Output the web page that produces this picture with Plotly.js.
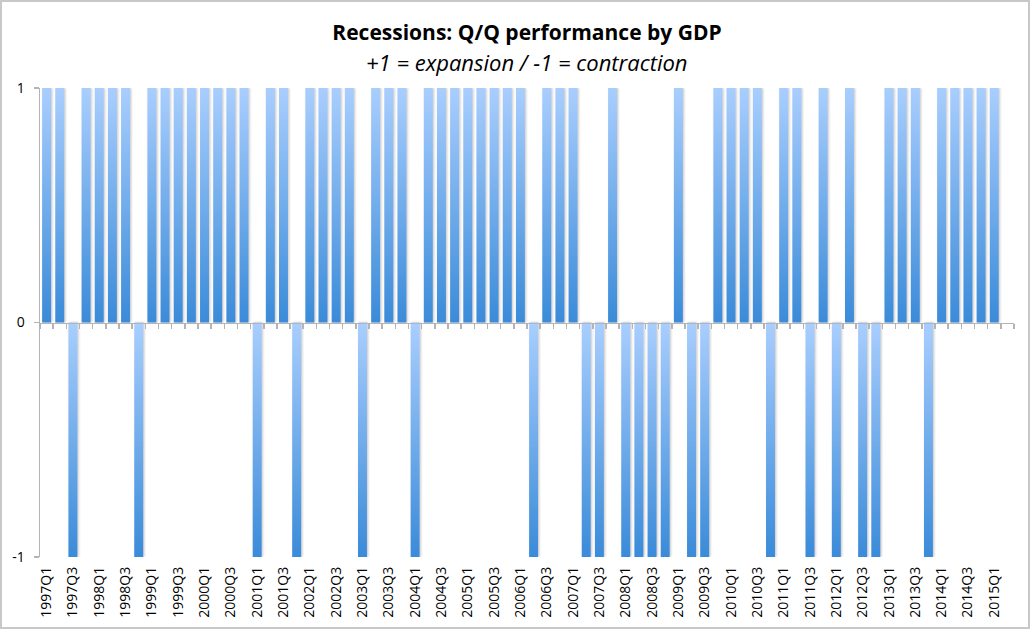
<!DOCTYPE html>
<html>
<head>
<meta charset="utf-8">
<script src="https://cdn.plot.ly/plotly-3.0.1.min.js"></script>
<style>
  html, body { margin: 0; padding: 0; background: #fff; }
  #chart { width: 1033px; height: 630px; }
  #frame { position: absolute; left: 0; top: 0; width: 1026px; height: 625px;
           border: 2px solid #c8c8c8; pointer-events: none; }
</style>
</head>
<body>
<div id="chart"></div>
<div id="frame"></div>
<script>
// Quarters (categories)
const quarters = [
  "1997Q1","1997Q2","1997Q3","1997Q4",
  "1998Q1","1998Q2","1998Q3","1998Q4",
  "1999Q1","1999Q2","1999Q3","1999Q4",
  "2000Q1","2000Q2","2000Q3","2000Q4",
  "2001Q1","2001Q2","2001Q3","2001Q4",
  "2002Q1","2002Q2","2002Q3","2002Q4",
  "2003Q1","2003Q2","2003Q3","2003Q4",
  "2004Q1","2004Q2","2004Q3","2004Q4",
  "2005Q1","2005Q2","2005Q3","2005Q4",
  "2006Q1","2006Q2","2006Q3","2006Q4",
  "2007Q1","2007Q2","2007Q3","2007Q4",
  "2008Q1","2008Q2","2008Q3","2008Q4",
  "2009Q1","2009Q2","2009Q3","2009Q4",
  "2010Q1","2010Q2","2010Q3","2010Q4",
  "2011Q1","2011Q2","2011Q3","2011Q4",
  "2012Q1","2012Q2","2012Q3","2012Q4",
  "2013Q1","2013Q2","2013Q3","2013Q4",
  "2014Q1","2014Q2","2014Q3","2014Q4",
  "2015Q1","2015Q2"
];

// +1 = expansion / -1 = contraction
const performance = [
   1,  1, -1,  1,   // 1997
   1,  1,  1, -1,   // 1998
   1,  1,  1,  1,   // 1999
   1,  1,  1,  1,   // 2000
  -1,  1,  1, -1,   // 2001
   1,  1,  1,  1,   // 2002
  -1,  1,  1,  1,   // 2003
  -1,  1,  1,  1,   // 2004
   1,  1,  1,  1,   // 2005
   1, -1,  1,  1,   // 2006
   1, -1, -1,  1,   // 2007
  -1, -1, -1, -1,   // 2008
   1, -1, -1,  1,   // 2009
   1,  1,  1, -1,   // 2010
   1,  1, -1,  1,   // 2011
  -1,  1, -1, -1,   // 2012
   1,  1,  1, -1,   // 2013
   1,  1,  1,  1,   // 2014
   1, null          // 2015
];

const yTicks = [-1, 0, 1];
const xTickLabels = quarters.filter((q, i) => i % 2 === 0 && i < 73);

const titleText = "Recessions: Q/Q performance by GDP";
const subtitleText = "+1 = expansion / -1 = contraction";

const FONT = "'Open Sans', Lato, sans-serif";
const GREY = "#b4b4b4";

const traces = [
  {
    type: "bar",
    x: quarters,
    y: performance,
    marker: { color: "#6aa7ea", line: { width: 0 } },
    hoverinfo: "x+y",
    xaxis: "x",
    yaxis: "y"
  },
  {
    // invisible helper so the zero-line axis knows the categories
    type: "scatter",
    x: quarters,
    y: performance,
    mode: "markers",
    marker: { opacity: 0, size: 1 },
    hoverinfo: "skip",
    showlegend: false,
    xaxis: "x2",
    yaxis: "y"
  }
];

const layout = {
  width: 1033,
  height: 630,
  margin: { l: 40, r: 19, t: 88, b: 73 },
  paper_bgcolor: "#ffffff",
  plot_bgcolor: "#ffffff",
  showlegend: false,
  bargap: 0.32,
  font: { family: FONT, color: "#000000", size: 14 },
  title: {
    text: "<b>" + titleText + "</b>",
    font: { family: FONT, size: 21, color: "#000000" },
    x: 0.5,
    xref: "paper",
    xanchor: "center",
    yref: "container",
    y: 1 - 33 / 630,
    yanchor: "middle"
  },
  annotations: [{
    text: "<i>" + subtitleText + "</i>",
    font: { family: FONT, size: 22, color: "#000000" },
    xref: "paper", yref: "paper",
    x: 0.5, xanchor: "center",
    y: (557 - 62) / 469, yanchor: "middle",
    showarrow: false
  }],
  xaxis: {
    type: "category",
    range: [-0.5, quarters.length - 0.5],
    tickmode: "array",
    tickvals: xTickLabels,
    ticktext: xTickLabels,
    tickangle: -90,
    ticks: "",
    ticklabelstandoff: 6,
    showline: false,
    showgrid: false,
    zeroline: false,
    tickfont: { family: FONT, size: 14, color: "#000000" },
    fixedrange: true
  },
  xaxis2: {
    type: "category",
    overlaying: "x",
    anchor: "free",
    position: 0.5,
    side: "bottom",
    range: [-0.5, quarters.length - 0.5],
    tickmode: "linear",
    dtick: 1,
    tickson: "boundaries",
    ticks: "outside",
    ticklen: 5,
    tickwidth: 1.5,
    tickcolor: GREY,
    showline: true,
    linecolor: GREY,
    linewidth: 1.5,
    showticklabels: false,
    showgrid: false,
    zeroline: false,
    fixedrange: true
  },
  yaxis: {
    range: [-1, 1],
    tickmode: "array",
    tickvals: yTicks,
    ticktext: yTicks.map(String),
    ticks: "outside",
    ticklen: 5,
    tickwidth: 1.5,
    tickcolor: GREY,
    ticklabelstandoff: 6,
    showline: true,
    linecolor: GREY,
    linewidth: 1.5,
    showgrid: false,
    zeroline: false,
    tickfont: { family: FONT, size: 14, color: "#000000" },
    fixedrange: true
  }
};

function applyGradient() {
  const svg = document.querySelector("#chart .main-svg");
  if (!svg) return;
  const ns = "http://www.w3.org/2000/svg";
  let defs = svg.querySelector("defs");
  if (!defs) { defs = document.createElementNS(ns, "defs"); svg.insertBefore(defs, svg.firstChild); }
  if (!svg.querySelector("#barGrad")) {
    const g = document.createElementNS(ns, "linearGradient");
    g.setAttribute("id", "barGrad");
    g.setAttribute("x1", "0"); g.setAttribute("y1", "0");
    g.setAttribute("x2", "0"); g.setAttribute("y2", "1");
    [["0%", "#a9cefe"], ["100%", "#3a8bd9"]].forEach(([o, c]) => {
      const s = document.createElementNS(ns, "stop");
      s.setAttribute("offset", o); s.setAttribute("stop-color", c);
      g.appendChild(s);
    });
    defs.appendChild(g);
    const f = document.createElementNS(ns, "filter");
    f.setAttribute("id", "barShadow");
    f.setAttribute("x", "-30%"); f.setAttribute("y", "-5%");
    f.setAttribute("width", "160%"); f.setAttribute("height", "110%");
    const ds = document.createElementNS(ns, "feDropShadow");
    ds.setAttribute("dx", "1.2"); ds.setAttribute("dy", "0");
    ds.setAttribute("stdDeviation", "0.9");
    ds.setAttribute("flood-color", "#808080");
    ds.setAttribute("flood-opacity", "0.45");
    f.appendChild(ds);
    defs.appendChild(f);
  }
  document.querySelectorAll("#chart .trace.bars .point path").forEach(p => {
    p.style.fill = "url(#barGrad)";
    p.setAttribute("filter", "url(#barShadow)");
  });
}

Plotly.newPlot("chart", traces, layout, { displayModeBar: false, staticPlot: true })
  .then(applyGradient);
</script>
</body>
</html>
